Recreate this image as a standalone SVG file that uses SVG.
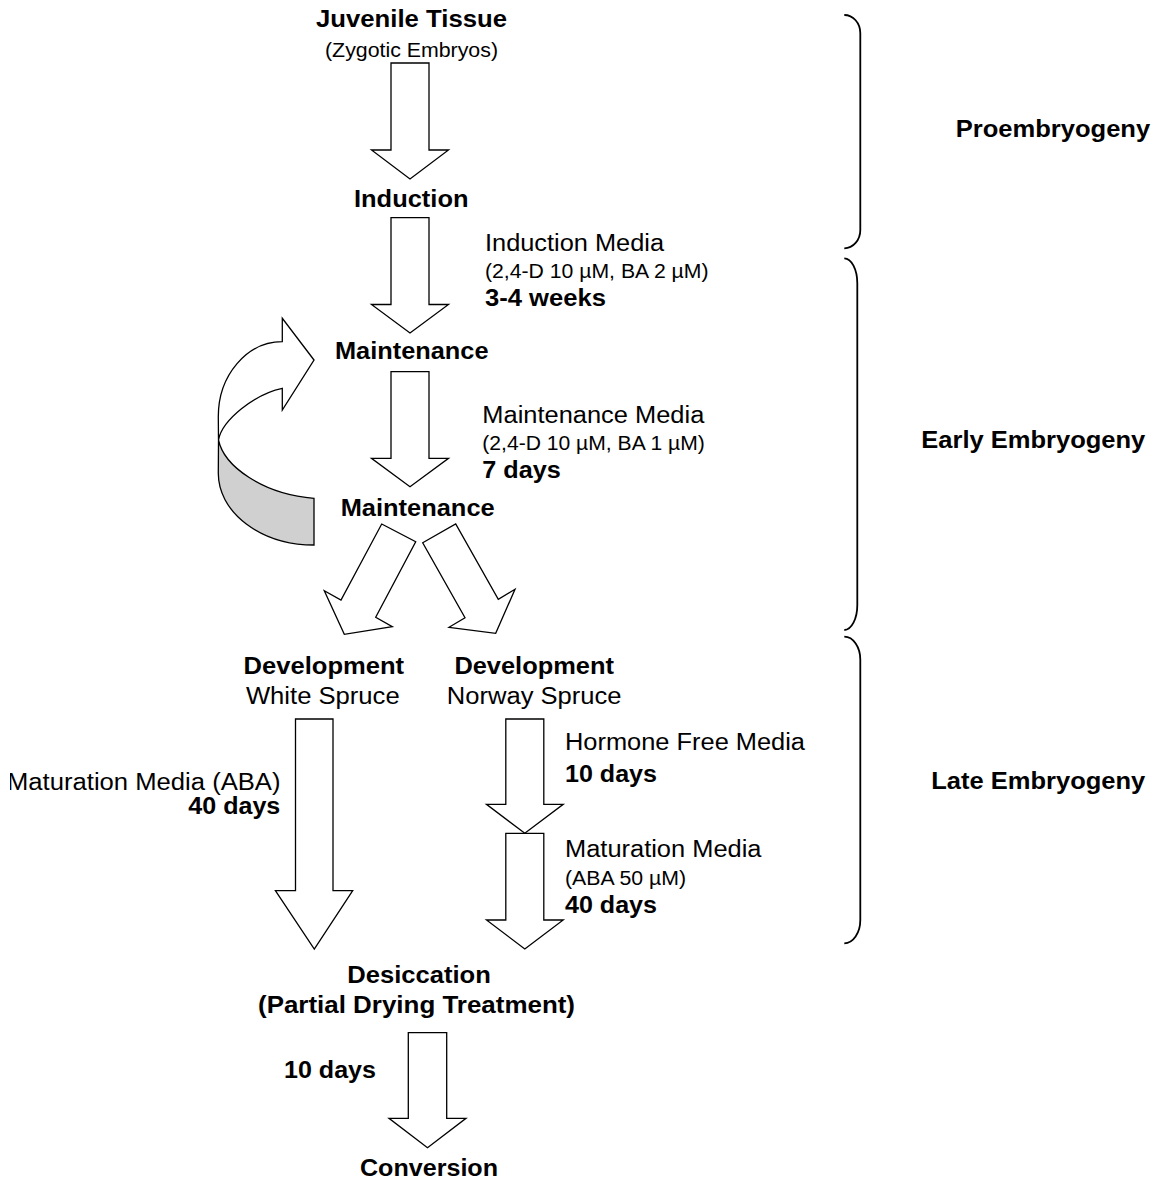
<svg xmlns="http://www.w3.org/2000/svg" width="1161" height="1182" viewBox="0 0 1161 1182">
<style>
text{font-family:"Liberation Sans",Arial,sans-serif;fill:#000}
.b{font-size:23px;font-weight:bold}
.r{font-size:23px}
.s{font-size:19.5px}
.ar{fill:#fff;stroke:#000;stroke-width:1.3;stroke-linejoin:miter}
.br{fill:none;stroke:#000;stroke-width:1.8}
</style>
<defs>
<clipPath id="clipL"><rect x="10" y="0" width="1151" height="1182"/></clipPath>
</defs>
<rect width="1161" height="1182" fill="#fff"/>

<g id="connectors">
<path class="ar" d="M391,63 H429 V150 H448.5 L410,179 L371.5,150 H391 Z"/>
<path class="ar" d="M391,217.7 H429 V304.5 H448.5 L410,333 L371.5,304.5 H391 Z"/>
<path class="ar" d="M391,371.7 H429 V458.3 H448.5 L410,486.7 L371.5,458.3 H391 Z"/>
<g id="loop-arrow">
<path d="M218.5,440 C224,466 262,494 314,498.3 L314,545 A95.7,71.7 0 0 1 218.3,473.3 Z" fill="#d0d0d0" stroke="#000" stroke-width="1.3"/>
<path class="ar" d="M314,360 L282.3,318.3 L282.3,341.7 A64,75 0 0 0 218.3,416.7 L218.5,440 C222,420 255,394 282.3,388.3 L282.3,410 Z"/>
</g>
<path class="ar" d="M381.7,524 L415.7,541.7 L375.7,617.3 L392.3,626.7 L344.3,634.3 L324.3,590.7 L341,600 Z"/>
<path class="ar" d="M422.7,542.7 L455.7,524 L498.3,599.3 L515,589.3 L495.7,633.3 L449,627.3 L465,617.7 Z"/>
<path class="ar" d="M295.5,719 H333 V890.7 H352.7 L314.3,949 L275.4,890.7 H295.5 Z"/>
<path class="ar" d="M505.8,719 H543.8 V804.3 H563.2 L524.8,833.3 L486.5,804.3 H505.8 Z"/>
<path class="ar" d="M505.8,833.3 H543.8 V920 H563.2 L524.8,949 L486.5,920 H505.8 Z"/>
<path class="ar" d="M408.3,1032.7 H446.7 V1118.3 H466 L427.5,1147.7 L389,1118.3 H408.3 Z"/>
</g>

<g id="braces">
<path class="br" d="M844.3,15 A16,18 0 0 1 860.3,33 L860.3,230 A16,18.3 0 0 1 844.3,248.3"/>
<path class="br" d="M844.3,258.3 A13,25 0 0 1 857.3,283.3 L857.3,605 A13,25 0 0 1 844.3,630"/>
<path class="br" d="M844.3,636.7 A16,23 0 0 1 860.3,660 L860.3,920 A16,23.3 0 0 1 844.3,943.3"/>
</g>

<g id="juvenile">
<text class="b" x="316" y="27.3" textLength="191" lengthAdjust="spacingAndGlyphs">Juvenile Tissue</text>
<text class="s" x="325" y="57.3" textLength="173" lengthAdjust="spacingAndGlyphs">(Zygotic Embryos)</text>
</g>
<g id="induction">
<text class="b" x="354" y="206.7" textLength="114.5" lengthAdjust="spacingAndGlyphs">Induction</text>
</g>
<g id="induction-media">
<text class="r" x="485" y="251" textLength="179" lengthAdjust="spacingAndGlyphs">Induction Media</text>
<text class="s" x="485" y="277.7" textLength="223.5" lengthAdjust="spacingAndGlyphs">(2,4-D 10 µM, BA 2 µM)</text>
<text class="b" x="485" y="306" textLength="121" lengthAdjust="spacingAndGlyphs">3-4 weeks</text>
</g>
<g id="maintenance1">
<text class="b" x="335" y="359.3" textLength="153.5" lengthAdjust="spacingAndGlyphs">Maintenance</text>
</g>
<g id="maintenance-media">
<text class="r" x="482.3" y="423.3" textLength="222" lengthAdjust="spacingAndGlyphs">Maintenance Media</text>
<text class="s" x="482.3" y="450" textLength="222.5" lengthAdjust="spacingAndGlyphs">(2,4-D 10 µM, BA 1 µM)</text>
<text class="b" x="482.3" y="478.3" textLength="78.5" lengthAdjust="spacingAndGlyphs">7 days</text>
</g>
<g id="maintenance2">
<text class="b" x="340.7" y="516" textLength="154" lengthAdjust="spacingAndGlyphs">Maintenance</text>
</g>
<g id="dev-white">
<text class="b" x="243.6" y="674" textLength="160.5" lengthAdjust="spacingAndGlyphs">Development</text>
<text class="r" x="245.9" y="704.3" textLength="153.8" lengthAdjust="spacingAndGlyphs">White Spruce</text>
</g>
<g id="dev-norway">
<text class="b" x="454.4" y="674" textLength="159.5" lengthAdjust="spacingAndGlyphs">Development</text>
<text class="r" x="446.8" y="704.3" textLength="174.7" lengthAdjust="spacingAndGlyphs">Norway Spruce</text>
</g>
<g id="hormone-free">
<text class="r" x="565" y="750" textLength="240" lengthAdjust="spacingAndGlyphs">Hormone Free Media</text>
<text class="b" x="565" y="781.7" textLength="92" lengthAdjust="spacingAndGlyphs">10 days</text>
</g>
<g id="maturation-norway">
<text class="r" x="565" y="856.7" textLength="196.5" lengthAdjust="spacingAndGlyphs">Maturation Media</text>
<text class="s" x="565" y="885" textLength="121" lengthAdjust="spacingAndGlyphs">(ABA 50 µM)</text>
<text class="b" x="565" y="913.3" textLength="92" lengthAdjust="spacingAndGlyphs">40 days</text>
</g>
<g id="maturation-white">
<text class="r" x="7" y="790" textLength="273.5" lengthAdjust="spacingAndGlyphs" clip-path="url(#clipL)">Maturation Media (ABA)</text>
<text class="b" x="188.3" y="814" textLength="92" lengthAdjust="spacingAndGlyphs">40 days</text>
</g>
<g id="desiccation">
<text class="b" x="347.3" y="982.7" textLength="143.5" lengthAdjust="spacingAndGlyphs">Desiccation</text>
<text class="b" x="258" y="1013.3" textLength="317" lengthAdjust="spacingAndGlyphs">(Partial Drying Treatment)</text>
</g>
<g id="ten-days">
<text class="b" x="284" y="1078.3" textLength="92" lengthAdjust="spacingAndGlyphs">10 days</text>
</g>
<g id="conversion">
<text class="b" x="360" y="1176" textLength="138" lengthAdjust="spacingAndGlyphs">Conversion</text>
</g>
<g id="proembryogeny">
<text class="b" x="955.7" y="136.7" textLength="194.5" lengthAdjust="spacingAndGlyphs">Proembryogeny</text>
</g>
<g id="early-embryogeny">
<text class="b" x="921.3" y="447.6" textLength="224" lengthAdjust="spacingAndGlyphs">Early Embryogeny</text>
</g>
<g id="late-embryogeny">
<text class="b" x="931.3" y="788.7" textLength="214" lengthAdjust="spacingAndGlyphs">Late Embryogeny</text>
</g>
</svg>
